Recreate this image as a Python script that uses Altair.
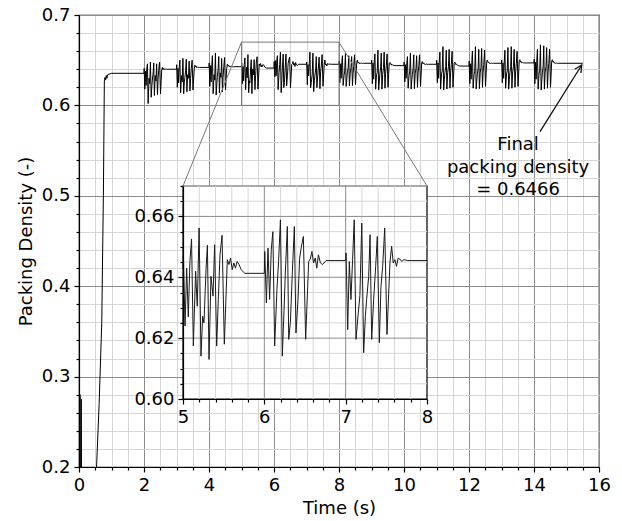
import altair as alt
import pandas as pd

# ---------------- data ----------------
START_T = [0.0, 0.03, 0.05, 0.07, 0.09, 0.40, 0.54, 0.62, 0.70, 0.75, 0.78, 0.80,
           0.82, 0.84, 0.86, 0.88, 0.92, 1.0]
START_V = [0.05, 0.28, 0.12, 0.275, 0.05, 0.05, 0.20, 0.27, 0.36, 0.50, 0.627, 0.631,
           0.628, 0.633, 0.630, 0.634, 0.6345, 0.6355]

BURST_OFFSETS = [0.000, 0.005, 0.025, 0.045, 0.065, 0.085, 0.105, 0.127, 0.155, 0.175,
                 0.198, 0.221, 0.242, 0.258, 0.283, 0.300, 0.320, 0.344, 0.369, 0.389,
                 0.414, 0.434, 0.455, 0.480, 0.508, 0.545, 0.565, 0.585, 0.605, 0.625,
                 0.645, 0.665, 0.690, 0.715, 0.760]

B02 = [0.6355, 0.641, 0.618, 0.638, 0.622, 0.640, 0.646, 0.602, 0.630, 0.624,
       0.648, 0.609, 0.622, 0.628, 0.637, 0.647, 0.611, 0.633, 0.627, 0.646,
       0.612, 0.629, 0.640, 0.648, 0.613, 0.639, 0.642, 0.6395, 0.641, 0.6398,
       0.6405, 0.6400, 0.6402, 0.6399, 0.6400]
B03 = [0.6400, 0.645, 0.620, 0.641, 0.625, 0.643, 0.650, 0.614, 0.633, 0.626,
       0.652, 0.613, 0.626, 0.631, 0.639, 0.651, 0.615, 0.634, 0.630, 0.649,
       0.616, 0.630, 0.641, 0.650, 0.617, 0.640, 0.6445, 0.6425, 0.6435, 0.6418,
       0.6425, 0.6420, 0.6422, 0.6419, 0.6420]
B04 = [0.6420, 0.647, 0.621, 0.644, 0.626, 0.645, 0.655, 0.613, 0.634, 0.628,
       0.658, 0.6115, 0.625, 0.632, 0.641, 0.654, 0.614, 0.636, 0.631, 0.652,
       0.615, 0.631, 0.643, 0.653, 0.617, 0.641, 0.6455, 0.6435, 0.6445, 0.6425,
       0.6435, 0.6428, 0.6432, 0.6426, 0.6428]
B05 = [0.6428, 0.647, 0.624, 0.643, 0.627, 0.6452, 0.6526, 0.6174, 0.642, 0.6305,
       0.6562, 0.6141, 0.6272, 0.625, 0.6425, 0.6505, 0.613, 0.6403, 0.6338, 0.6507,
       0.6174, 0.6327, 0.6474, 0.6538, 0.618, 0.6458, 0.6442, 0.6463, 0.6425, 0.6447,
       0.643, 0.6452, 0.6442, 0.6425, 0.6413]
B06 = [0.6413, 0.6485, 0.6316, 0.6496, 0.6327, 0.649, 0.655, 0.6174, 0.636, 0.6452,
       0.6589, 0.6141, 0.629, 0.6414, 0.6567, 0.6196, 0.6251, 0.6414, 0.6567, 0.6217,
       0.6327, 0.6463, 0.650, 0.6534, 0.6196, 0.6452, 0.646, 0.6485, 0.6447, 0.6463,
       0.643, 0.6474, 0.6447, 0.6442, 0.6455]
B07 = [0.6455, 0.648, 0.6228, 0.6452, 0.6327, 0.6458, 0.6589, 0.6196, 0.6283, 0.634,
       0.6578, 0.6152, 0.6272, 0.6327, 0.6403, 0.654, 0.6196, 0.6327, 0.6436, 0.6534,
       0.6185, 0.637, 0.6436, 0.6562, 0.6212, 0.645, 0.6502, 0.6447, 0.6458, 0.6436,
       0.6463, 0.646, 0.6452, 0.6458, 0.6455]
B08 = [0.6455, 0.649, 0.625, 0.646, 0.630, 0.647, 0.655, 0.622, 0.633, 0.638,
       0.6576, 0.621, 0.630, 0.636, 0.642, 0.655, 0.6215, 0.635, 0.642, 0.654,
       0.622, 0.636, 0.645, 0.656, 0.623, 0.6475, 0.650, 0.6468, 0.648, 0.6462,
       0.6470, 0.6465, 0.6468, 0.6464, 0.6466]
B09 = [0.6466, 0.650, 0.624, 0.647, 0.629, 0.648, 0.657, 0.618, 0.634, 0.636,
       0.661, 0.617, 0.628, 0.635, 0.643, 0.658, 0.618, 0.634, 0.642, 0.659,
       0.619, 0.635, 0.644, 0.657, 0.620, 0.6465, 0.6475, 0.6455, 0.646, 0.6445,
       0.645, 0.6442, 0.6445, 0.6440, 0.6440]
B10 = [0.6440, 0.648, 0.626, 0.645, 0.630, 0.646, 0.654, 0.619, 0.633, 0.637,
       0.658, 0.618, 0.629, 0.634, 0.642, 0.656, 0.6185, 0.635, 0.641, 0.655,
       0.620, 0.636, 0.644, 0.656, 0.621, 0.6475, 0.6485, 0.646, 0.647, 0.6455,
       0.646, 0.6452, 0.6458, 0.6453, 0.6455]
B11 = [0.6455, 0.650, 0.625, 0.647, 0.630, 0.648, 0.659, 0.618, 0.635, 0.638,
       0.665, 0.617, 0.629, 0.636, 0.643, 0.661, 0.618, 0.636, 0.643, 0.662,
       0.619, 0.636, 0.645, 0.660, 0.620, 0.6465, 0.648, 0.6455, 0.646, 0.6448,
       0.6445, 0.6440, 0.6438, 0.6436, 0.6435]
B12 = [0.6435, 0.649, 0.624, 0.646, 0.629, 0.647, 0.660, 0.619, 0.634, 0.637,
       0.665, 0.618, 0.628, 0.635, 0.642, 0.662, 0.6185, 0.636, 0.642, 0.663,
       0.620, 0.637, 0.645, 0.661, 0.621, 0.648, 0.650, 0.6475, 0.6478, 0.6465,
       0.647, 0.6464, 0.6468, 0.6465, 0.6466]
B13 = [0.6466, 0.650, 0.625, 0.647, 0.630, 0.648, 0.661, 0.619, 0.635, 0.638,
       0.664, 0.618, 0.629, 0.636, 0.643, 0.665, 0.619, 0.637, 0.643, 0.662,
       0.620, 0.637, 0.646, 0.660, 0.621, 0.6485, 0.6505, 0.648, 0.6485, 0.647,
       0.6475, 0.6468, 0.6472, 0.6469, 0.6470]
B14 = [0.6470, 0.651, 0.624, 0.648, 0.629, 0.649, 0.662, 0.618, 0.635, 0.638,
       0.667, 0.617, 0.629, 0.636, 0.644, 0.666, 0.618, 0.637, 0.643, 0.664,
       0.619, 0.638, 0.646, 0.662, 0.620, 0.649, 0.6505, 0.6478, 0.6485, 0.6468,
       0.6472, 0.6466, 0.6468, 0.6465, 0.6466]
BURSTS = [(2, B02), (3, B03), (4, B04), (5, B05), (6, B06), (7, B07), (8, B08),
          (9, B09), (10, B10), (11, B11), (12, B12), (13, B13), (14, B14)]
END_T = [15.5]
END_V = [0.6466]

ANNOT_LINES = ["Final", "packing density", "= 0.6466"]
ANNOT_POS = (13.51, 0.5507)
ARROW_TAIL = (14.185, 0.5709)
ARROW_TIP = (15.468, 0.6447)

MAIN_X = [0.0, 16.0]
MAIN_Y = [0.2, 0.7]
ZOOM_X = [5.0, 8.0]
ZOOM_Y = [0.60, 0.67]

X_TICKS = [i * 0.5 for i in range(33)]
Y_TICKS = [round(0.2 + 0.02 * i, 3) for i in range(26)]
IX_TICKS = [round(5 + 0.2 * i, 2) for i in range(16)]
IY_TICKS = [round(0.6 + 0.005 * i, 3) for i in range(15)]

# ---------------- geometry ----------------
W, H = 520, 452
IN_X0, IN_X1 = 104, 348      # inset box, pixels in plot area
IN_YB, IN_YT = 384, 171

FONT = "DejaVu Sans"
FS = 18

# ---------------- tables ----------------
ts, vs = list(START_T), list(START_V)
for s, vals in BURSTS:
    for o, v in zip(BURST_OFFSETS, vals):
        ts.append(round(s + o, 4))
        vs.append(v)
ts += END_T
vs += END_V
df = pd.DataFrame({"t": ts, "v": vs})
df_in = df[(df.t >= ZOOM_X[0]) & (df.t <= ZOOM_X[1])].rename(columns={"t": "ti", "v": "vi"})

def px2main(px, py):
    return (MAIN_X[0] + px / W * (MAIN_X[1] - MAIN_X[0]),
            MAIN_Y[1] - py / H * (MAIN_Y[1] - MAIN_Y[0]))

tl = px2main(IN_X0, IN_YT)
tr = px2main(IN_X1, IN_YT)

def major(test):
    return test

T_MX = "abs(datum.value/2 - round(datum.value/2)) < 1e-6"
T_MY = "abs(datum.value*10 - round(datum.value*10)) < 1e-6"
T_IX = "abs(datum.value - round(datum.value)) < 1e-6"
T_IY = "abs(datum.value*50 - round(datum.value*50)) < 1e-6"

def cond(test, a, b):
    return {"condition": {"test": test, "value": a}, "value": b}

GRID_MAJ = "#8c8c8c"
GRID_MIN = "#d6d6d6"

ax_mx = alt.Axis(values=X_TICKS, format=".0f", title="Time (s)",
                 labelExpr=f"{T_MX} ? datum.label : ''",
                 tickSize=cond(T_MX, 5, 3), gridColor=cond(T_MX, GRID_MAJ, GRID_MIN),
                 grid=True, gridWidth=1, labelPadding=4, titlePadding=5,
                 labelFlush=False, labelOverlap=False, labelBound=False, zindex=0)
ax_my = alt.Axis(values=Y_TICKS, format=".1f", title="Packing Density (-)",
                 labelExpr=f"{T_MY} ? datum.label : ''",
                 tickSize=cond(T_MY, 5, 3), gridColor=cond(T_MY, GRID_MAJ, GRID_MIN),
                 grid=True, gridWidth=1, labelPadding=4, titlePadding=6,
                 labelFlush=False, labelOverlap=False, labelBound=False, zindex=0)
sx = alt.Scale(domain=MAIN_X, nice=False, zero=False)
sy = alt.Scale(domain=MAIN_Y, nice=False, zero=False)
XM = alt.X("t:Q", scale=sx, axis=ax_mx)
YM = alt.Y("v:Q", scale=sy, axis=ax_my)

ax_ix = alt.Axis(values=IX_TICKS, format=".0f", title=None, orient="bottom",
                 offset=IN_YB - H, labelExpr=f"{T_IX} ? datum.label : ''",
                 tickSize=cond(T_IX, 5, 3), grid=False, labelPadding=4,
                 labelFlush=False, labelOverlap=False, labelBound=False, zindex=1)
ax_iy = alt.Axis(values=IY_TICKS, format=".2f", title=None, orient="left",
                 offset=-IN_X0, labelExpr=f"{T_IY} ? datum.label : ''",
                 tickSize=cond(T_IY, 5, 3), grid=False, labelPadding=4,
                 labelFlush=False, labelOverlap=False, labelBound=False, zindex=1)
six = alt.Scale(domain=ZOOM_X, range=[IN_X0, IN_X1], nice=False, zero=False)
siy = alt.Scale(domain=ZOOM_Y, range=[IN_YB, IN_YT], nice=False, zero=False)
XI = alt.X("ti:Q", scale=six, axis=ax_ix)
YI = alt.Y("vi:Q", scale=siy, axis=ax_iy)

# ---------------- main layers ----------------
line = alt.Chart(df).mark_line(color="black", strokeWidth=1, clip=True).encode(x=XM, y=YM)

zoom_box = alt.Chart(pd.DataFrame({"t": [ZOOM_X[0]], "t2": [ZOOM_X[1]],
                                   "v": [ZOOM_Y[0]], "v2": [ZOOM_Y[1]]})).mark_rect(
    fillOpacity=0, stroke="#7a7a7a", strokeWidth=1).encode(x=XM, x2="t2:Q", y=YM, y2="v2:Q")

conn = alt.Chart(pd.DataFrame({"t": [ZOOM_X[0], ZOOM_X[1]], "v": [ZOOM_Y[1], ZOOM_Y[1]],
                               "t2": [tl[0], tr[0]], "v2": [tl[1], tr[1]]})).mark_rule(
    color="#7a7a7a", strokeWidth=1).encode(x=XM, x2="t2:Q", y=YM, y2="v2:Q")

arrow = alt.Chart(pd.DataFrame({"t": [ARROW_TAIL[0]], "v": [ARROW_TAIL[1]],
                                "t2": [ARROW_TIP[0]], "v2": [ARROW_TIP[1]]})).mark_rule(
    color="#111", strokeWidth=1.3).encode(x=XM, x2="t2:Q", y=YM, y2="v2:Q")
head = alt.Chart(pd.DataFrame({"t": [ARROW_TIP[0]], "v": [ARROW_TIP[1]]})).mark_point(
    shape="M -0.5 1 L 0 0 L 0.5 1", size=210, angle=32, filled=False,
    color="#111", strokeWidth=1.3, opacity=1).encode(x=XM, y=YM)

annot = alt.Chart(pd.DataFrame({"t": [ANNOT_POS[0]], "v": [ANNOT_POS[1]]})).mark_text(
    text=ANNOT_LINES, font=FONT, fontSize=FS, lineHeight=22.7, align="center",
    baseline="alphabetic", color="black").encode(x=XM, y=YM)

main = alt.layer(line, zoom_box, conn, arrow, head, annot)

# ---------------- inset layers ----------------
bg = alt.Chart(pd.DataFrame({"ti": [ZOOM_X[0]], "ti2": [ZOOM_X[1]],
                             "vi": [ZOOM_Y[0]], "vi2": [ZOOM_Y[1]]})).mark_rect(
    fill="white", stroke="black", strokeWidth=1.2).encode(x=XI, x2="ti2:Q", y=YI, y2="vi2:Q")

ix_minor = [x for x in IX_TICKS if abs(x - round(x)) > 1e-6]
ix_major = [x for x in IX_TICKS if abs(x - round(x)) <= 1e-6 and ZOOM_X[0] < x < ZOOM_X[1]]
iy_minor = [y for y in IY_TICKS if abs(y * 50 - round(y * 50)) > 1e-6]
iy_major = [y for y in IY_TICKS if abs(y * 50 - round(y * 50)) <= 1e-6 and ZOOM_Y[0] < y < ZOOM_Y[1]]

def vrules(xs, color):
    d = pd.DataFrame({"ti": xs, "vi": [ZOOM_Y[0]] * len(xs), "vi2": [ZOOM_Y[1]] * len(xs)})
    return alt.Chart(d).mark_rule(color=color, strokeWidth=1).encode(x=XI, y=YI, y2="vi2:Q")

def hrules(ys, color):
    d = pd.DataFrame({"vi": ys, "ti": [ZOOM_X[0]] * len(ys), "ti2": [ZOOM_X[1]] * len(ys)})
    return alt.Chart(d).mark_rule(color=color, strokeWidth=1).encode(y=YI, x=XI, x2="ti2:Q")

in_line = alt.Chart(df_in).mark_line(color="#1a1a1a", strokeWidth=1).encode(x=XI, y=YI)

inset = alt.layer(bg, vrules(ix_minor, GRID_MIN), hrules(iy_minor, GRID_MIN),
                  vrules(ix_major, GRID_MAJ), hrules(iy_major, GRID_MAJ), in_line)

chart = alt.layer(main, inset).resolve_scale(x="independent", y="independent").properties(
    width=W, height=H, autosize=alt.AutoSizeParams(type="none"),
    padding={"left": 79, "top": 15, "right": 23, "bottom": 54},
    background="white",
).configure_axis(
    labelFont=FONT, labelFontSize=FS, titleFont=FONT, titleFontSize=FS,
    titleFontWeight="normal", labelColor="black", titleColor="black",
    domainColor="black", tickColor="black", domainWidth=1.2, tickWidth=1.2,
).configure_view(stroke="black", strokeWidth=1.2)

chart.save("out.html", embed_options={"renderer": "svg", "actions": False})
